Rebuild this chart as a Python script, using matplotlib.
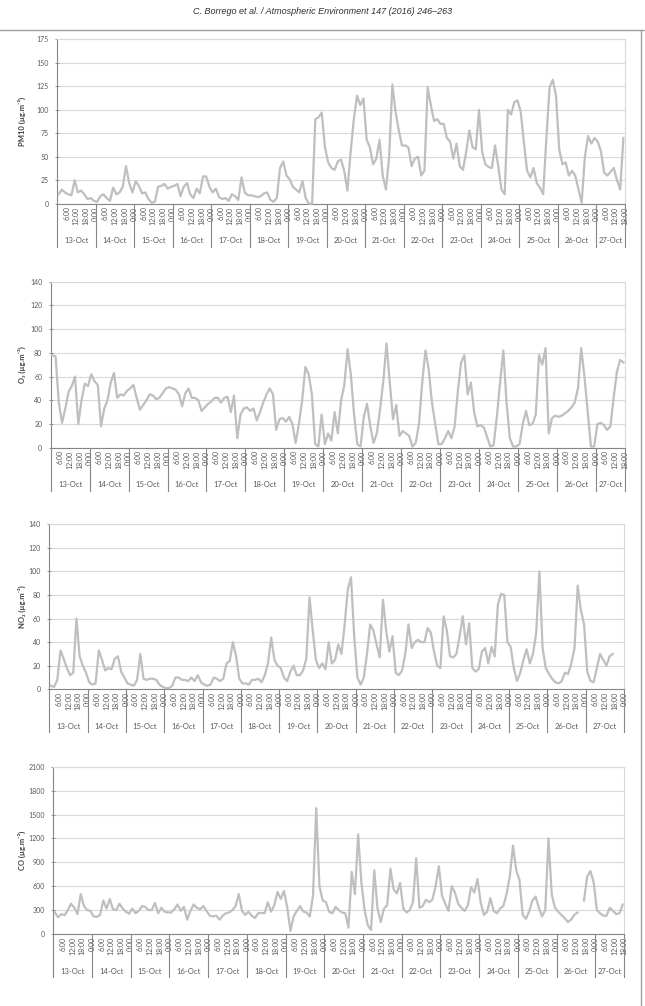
import numpy as np
import matplotlib.pyplot as plt
from matplotlib.lines import Line2D
import matplotlib.transforms as mtransforms

plt.rcParams['font.family'] = ['Lato', 'DejaVu Sans']

# ==========================================================
# Data (values every 2 hours, first one at 1:00 of 13-Oct)
# ==========================================================

days = ["13-Oct", "14-Oct", "15-Oct", "16-Oct", "17-Oct", "18-Oct", "19-Oct",
        "20-Oct", "21-Oct", "22-Oct", "23-Oct", "24-Oct", "25-Oct", "26-Oct", "27-Oct"]
hour_labels = ["6:00", "12:00", "18:00", "0:00"]
step_h = 2

pm10 = [10, 15, 12, 10, 9, 25, 12, 14, 10, 5, 6, 3,
        2, 8, 10, 6, 3, 17, 10, 12, 18, 40, 22, 12,
        24, 19, 11, 12, 5, 1, 2, 18, 19, 21, 16, 18,
        19, 21, 8, 18, 22, 10, 6, 16, 11, 29, 29, 18,
        12, 16, 7, 5, 6, 3, 10, 8, 4, 28, 12, 9,
        9, 8, 7, 8, 11, 12, 4, 2, 6, 38, 45, 30,
        26, 18, 15, 12, 24, 6, 0, 0, 90, 92, 97, 60,
        44, 38, 36, 45, 47, 35, 14, 55, 90, 115, 105, 112,
        68, 60, 42, 48, 68, 30, 15, 50, 127, 98, 78, 62,
        62, 60, 40, 48, 50, 30, 35, 124, 105, 88, 90, 85,
        85, 70, 66, 48, 64, 40, 36, 55, 78, 60, 58, 100,
        55, 42, 39, 38, 62, 40, 15, 10, 100, 95, 108, 110,
        98, 65, 35, 28, 38, 22, 17, 10, 70, 124, 132, 115,
        58, 42, 44, 30, 35, 30, 15, 1, 50, 72, 64, 70,
        66, 56, 33, 30, 34, 38, 25, 15, 70]

o3 = [78, 77, 38, 21, 33, 47, 52, 60, 20, 40, 54, 52,
      62, 56, 53, 18, 33, 40, 55, 63, 42, 45, 44, 48,
      50, 53, 42, 32, 36, 40, 45, 44, 41, 42, 46, 50,
      51, 50, 49, 45, 35, 46, 50, 42, 42, 40, 31, 34,
      37, 39, 42, 42, 38, 42, 43, 30, 44, 8, 28, 33,
      34, 31, 33, 23, 30, 38, 45, 50, 45, 15, 24, 25,
      22, 26, 20, 4, 20, 40, 68, 62, 45, 3, 1, 28,
      3, 12, 6, 30, 12, 40, 53, 83, 62, 28, 3, 1,
      26, 37, 18, 4, 12, 32, 56, 88, 55, 24, 36, 10,
      14, 12, 10, 1, 4, 20, 55, 82, 66, 38, 20, 3,
      3, 8, 14, 8, 18, 48, 72, 78, 45, 55, 30, 18,
      19, 17, 9, 1, 2, 26, 55, 82, 38, 8, 1, 1,
      3, 20, 31, 19, 20, 28, 78, 70, 84, 12, 25, 27,
      26, 27, 29, 31, 34, 38, 50, 84, 60, 30, 1, 1,
      20, 21, 19, 15, 18, 42, 64, 74, 72]

no2 = [3, 2, 8, 33, 26, 18, 12, 14, 60, 28, 20, 14,
       6, 4, 5, 33, 25, 16, 18, 17, 26, 28, 15, 10,
       5, 4, 3, 8, 30, 9, 8, 9, 9, 8, 4, 2,
       1, 1, 3, 10, 10, 8, 8, 7, 10, 7, 12, 6,
       4, 3, 4, 10, 9, 7, 9, 22, 24, 40, 28, 9,
       5, 5, 4, 8, 8, 9, 6, 12, 22, 44, 25, 20,
       18, 10, 7, 15, 20, 12, 12, 16, 26, 78, 50, 25,
       18, 22, 17, 40, 22, 25, 38, 30, 55, 85, 95, 45,
       10, 4, 10, 30, 55, 50, 38, 27, 76, 50, 32, 45,
       14, 12, 16, 30, 55, 35, 40, 42, 40, 40, 52, 48,
       32, 20, 18, 62, 50, 28, 27, 30, 45, 62, 38, 56,
       18, 15, 17, 32, 35, 22, 36, 28, 72, 81, 80, 40,
       36, 18, 7, 14, 25, 34, 22, 30, 48, 100, 35, 18,
       13, 9, 6, 5, 7, 14, 13, 22, 35, 88, 67, 55,
       15, 7, 6, 18, 30, 25, 20, 28, 30]

nan = float("nan")
co = [270, 210, 250, 235, 300, 380, 330, 250, 500, 350, 300, 290,
      220, 215, 240, 420, 320, 440, 310, 300, 380, 320, 280, 255,
      320, 260, 290, 350, 340, 300, 300, 390, 260, 330, 280, 270,
      270, 310, 370, 290, 340, 180, 290, 370, 330, 310, 350, 290,
      230, 220, 230, 180, 230, 260, 270, 300, 350, 500, 290, 240,
      280, 230, 200, 260, 265, 260, 400, 280, 360, 530, 440, 540,
      340, 40, 220, 290, 350, 280, 270, 220, 480, 1580, 600, 420,
      400, 280, 260, 340, 300, 270, 260, 80, 780, 500, 1250, 650,
      300, 110, 50, 800, 320, 150, 320, 360, 820, 560, 510, 640,
      320, 270, 300, 400, 950, 330, 350, 430, 400, 430, 600, 850,
      480, 380, 290, 600, 520, 380, 330, 290, 360, 590, 520, 690,
      390, 240, 280, 450, 290, 260, 320, 350, 500, 720, 1110, 800,
      680, 240, 190, 280, 420, 470, 330, 220, 300, 1200, 500, 330,
      280, 240, 200, 150, 180, 240, 270, nan, 420, 720, 790, 650,
      300, 260, 230, 230, 330, 290, 250, 260, 370]

# ==========================================================
# Figure
# ==========================================================

W, H = 645, 1006
fig = plt.figure(figsize=(W / 100, H / 100), dpi=100)

axis_col = "#868686"
light_col = "#d9d9d9"
text_col = "#595959"
line_col = "#bfbfbf"

panels = [
    (pm10, "PM10 (µg.m⁻³)", 175, 25, 354, (57, 39.3, 625, 203.7)),
    (o3, "O₃ (µg.m⁻³)", 140, 20, 354, (50.7, 281.7, 625, 447.7)),
    (no2, "NO₂ (µg.m⁻³)", 140, 20, 360, (49.3, 524.3, 624, 689.3)),
    (co, "CO (µg.m⁻³)", 2100, 300, 354, (53.3, 766.7, 624.3, 934)),
]

for vals, ylabel, ymax, ystep, xmax, (l, t, r, b) in panels:
    ax = fig.add_axes([l / W, 1 - b / H, (r - l) / W, (b - t) / H])
    hpx = b - t

    x = np.arange(len(vals)) * step_h + 1
    ax.plot(x, vals, color=line_col, lw=1.6, clip_on=False, zorder=3)

    ax.set_xlim(0, xmax)
    ax.set_ylim(0, ymax)
    ax.set_yticks(np.arange(0, ymax + 1, ystep))
    ax.yaxis.grid(True, color=light_col, lw=0.8)
    ax.set_axisbelow(True)

    for side in ["top", "right"]:
        ax.spines[side].set_color(light_col)
        ax.spines[side].set_linewidth(0.8)
    for side in ["left", "bottom"]:
        ax.spines[side].set_color(axis_col)
        ax.spines[side].set_linewidth(0.8)

    ax.tick_params(axis="y", direction="inout", length=3, width=0.6,
                   color=axis_col, labelsize=5, labelcolor=text_col, pad=4.5)

    # hour labels
    pos, labs = [], []
    for d in range(len(days)):
        for k, hl in enumerate(hour_labels):
            hh = 24 * d + 6 * (k + 1)
            if hh <= xmax:
                pos.append(hh)
                labs.append(hl)
    ax.set_xticks(pos)
    ax.set_xticklabels(labs, rotation=90, fontsize=5, color=text_col)
    ax.tick_params(axis="x", length=0, pad=2)

    # day separators and day labels
    trans = mtransforms.blended_transform_factory(ax.transData, ax.transAxes)
    bounds = list(range(0, xmax, 24)) + [xmax]
    for bx in bounds:
        ax.add_line(Line2D([bx, bx], [0, -43 / hpx], transform=trans,
                           clip_on=False, color=axis_col, lw=0.8))
    for d, name in enumerate(days):
        s = 24 * d
        e = min(s + 24, xmax)
        ax.text((s + e) / 2, -37 / hpx, name, transform=trans,
                ha="center", va="center", fontsize=5.5, color=text_col)

    fig.text(22 / W, 1 - (t + b) / 2 / H, ylabel, rotation=90,
             ha="center", va="center", fontsize=5.5, fontweight="bold",
             color="#404040")

# header of the page
fig.text(0.5, 1 - 11 / H, "C. Borrego et al. / Atmospheric Environment 147 (2016) 246–263",
         ha="center", va="center", fontsize=6.5, style="italic",
         family=["Liberation Sans Narrow", "Liberation Sans"], color="#303030")
fig.add_artist(Line2D([0, 1], [1 - 30 / H] * 2, color="#a0a0a0", lw=1))
fig.add_artist(Line2D([641 / W] * 2, [0, 1 - 30 / H], color="#a0a0a0", lw=1))

fig.savefig("out.png", dpi=100)
